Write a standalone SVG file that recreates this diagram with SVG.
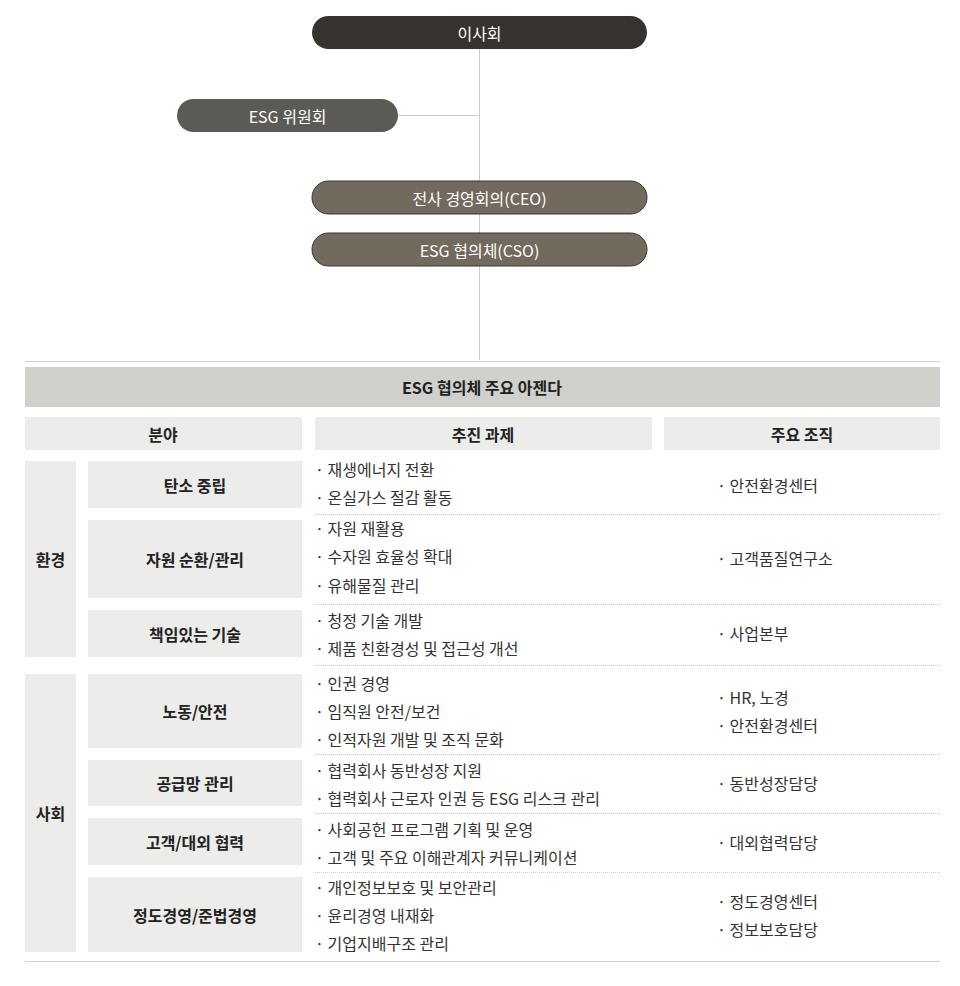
<svg xmlns="http://www.w3.org/2000/svg" width="960" height="986" viewBox="0 0 960 986">
<style>
text{font-family:"Noto Sans CJK KR","Noto Sans",sans-serif;font-size:16px;fill:#333;dominant-baseline:central}
.w{fill:#fff;text-anchor:middle}
.c{text-anchor:middle;fill:#222}
.b{font-weight:bold}
.cell{fill:#ececea}
.sep{stroke:#c8c8c8;stroke-width:1;stroke-dasharray:1 1}
.ln{stroke:#ccc;stroke-width:1;fill:none}
</style>
<g id="connectors">
<path class="ln" d="M479.5 49V360M398 115.5H479"/>
</g>
<g id="board"><rect x="312" y="16" width="335" height="33" rx="16.5" fill="#36332e"/><text class="w" x="479.5" y="32.5">이사회</text></g>
<g id="esg-committee"><rect x="177" y="99" width="221" height="33" rx="16.5" fill="#5c5a55"/><text class="w" x="287.5" y="115.5">ESG 위원회</text></g>
<g id="ceo"><rect x="312" y="181" width="335" height="33" rx="16.5" fill="#736a5e" stroke="#3a362f"/><text class="w" x="479.5" y="197.5">전사 경영회의(CEO)</text></g>
<g id="cso"><rect x="312" y="233" width="335" height="33" rx="16.5" fill="#736a5e" stroke="#3a362f"/><text class="w" x="479.5" y="249.5">ESG 협의체(CSO)</text></g>
<g id="table">
<line x1="25" y1="361.5" x2="940" y2="361.5" stroke="#d0d0d0"/>
<rect x="25" y="367" width="915" height="40" fill="#d0d0cc"/><text class="c b" x="482" y="387">ESG 협의체 주요 아젠다</text>
<rect class="cell" x="25" y="417" width="277" height="33"/><text class="c b" x="163" y="433.5">분야</text>
<rect class="cell" x="315" y="417" width="337" height="33"/><text class="c b" x="483" y="433.5">추진 과제</text>
<rect class="cell" x="664" y="417" width="276" height="33"/><text class="c b" x="802" y="433.5">주요 조직</text>
<rect class="cell" x="25" y="461" width="51" height="196"/><text class="c b" x="50.5" y="559">환경</text>
<rect class="cell" x="25" y="674" width="51" height="278"/><text class="c b" x="50.5" y="813">사회</text>
<rect class="cell" x="88" y="461" width="214" height="47"/><text class="c b" x="195" y="484.5">탄소 중립</text>
<rect class="cell" x="88" y="520" width="214" height="78"/><text class="c b" x="195" y="559">자원 순환/관리</text>
<rect class="cell" x="88" y="610" width="214" height="47"/><text class="c b" x="195" y="633.5">책임있는 기술</text>
<rect class="cell" x="88" y="674" width="214" height="74"/><text class="c b" x="195" y="711">노동/안전</text>
<rect class="cell" x="88" y="760" width="214" height="46"/><text class="c b" x="195" y="783">공급망 관리</text>
<rect class="cell" x="88" y="818" width="214" height="47"/><text class="c b" x="195" y="841.5">고객/대외 협력</text>
<rect class="cell" x="88" y="877" width="214" height="75"/><text class="c b" x="195" y="914.5">정도경영/준법경영</text>
<g class="sep"><line x1="315" y1="514.5" x2="940" y2="514.5"/><line x1="315" y1="604.5" x2="940" y2="604.5"/><line x1="315" y1="665.5" x2="940" y2="665.5"/><line x1="315" y1="754.5" x2="940" y2="754.5"/><line x1="315" y1="813.5" x2="940" y2="813.5"/><line x1="315" y1="872.5" x2="940" y2="872.5"/></g>
<line x1="25" y1="961.5" x2="940" y2="961.5" stroke="#d0d0d0"/>
<text x="315" y="469">· 재생에너지 전환</text><text x="315" y="497">· 온실가스 절감 활동</text>
<text x="315" y="528">· 자원 재활용</text><text x="315" y="556">· 수자원 효율성 확대</text><text x="315" y="585">· 유해물질 관리</text>
<text x="315" y="620">· 청정 기술 개발</text><text x="315" y="648">· 제품 친환경성 및 접근성 개선</text>
<text x="315" y="683">· 인권 경영</text><text x="315" y="711">· 임직원 안전/보건</text><text x="315" y="739">· 인적자원 개발 및 조직 문화</text>
<text x="315" y="770">· 협력회사 동반성장 지원</text><text x="315" y="798">· 협력회사 근로자 인권 등 ESG 리스크 관리</text>
<text x="315" y="829">· 사회공헌 프로그램 기획 및 운영</text><text x="315" y="857">· 고객 및 주요 이해관계자 커뮤니케이션</text>
<text x="315" y="887">· 개인정보보호 및 보안관리</text><text x="315" y="915">· 윤리경영 내재화</text><text x="315" y="943">· 기업지배구조 관리</text>
<text x="717" y="485">· 안전환경센터</text><text x="717" y="558">· 고객품질연구소</text><text x="717" y="633">· 사업본부</text>
<text x="717" y="697">· HR, 노경</text><text x="717" y="725">· 안전환경센터</text><text x="717" y="783">· 동반성장담당</text><text x="717" y="842">· 대외협력담당</text>
<text x="717" y="901">· 정도경영센터</text><text x="717" y="929">· 정보보호담당</text>
</g>
</svg>
